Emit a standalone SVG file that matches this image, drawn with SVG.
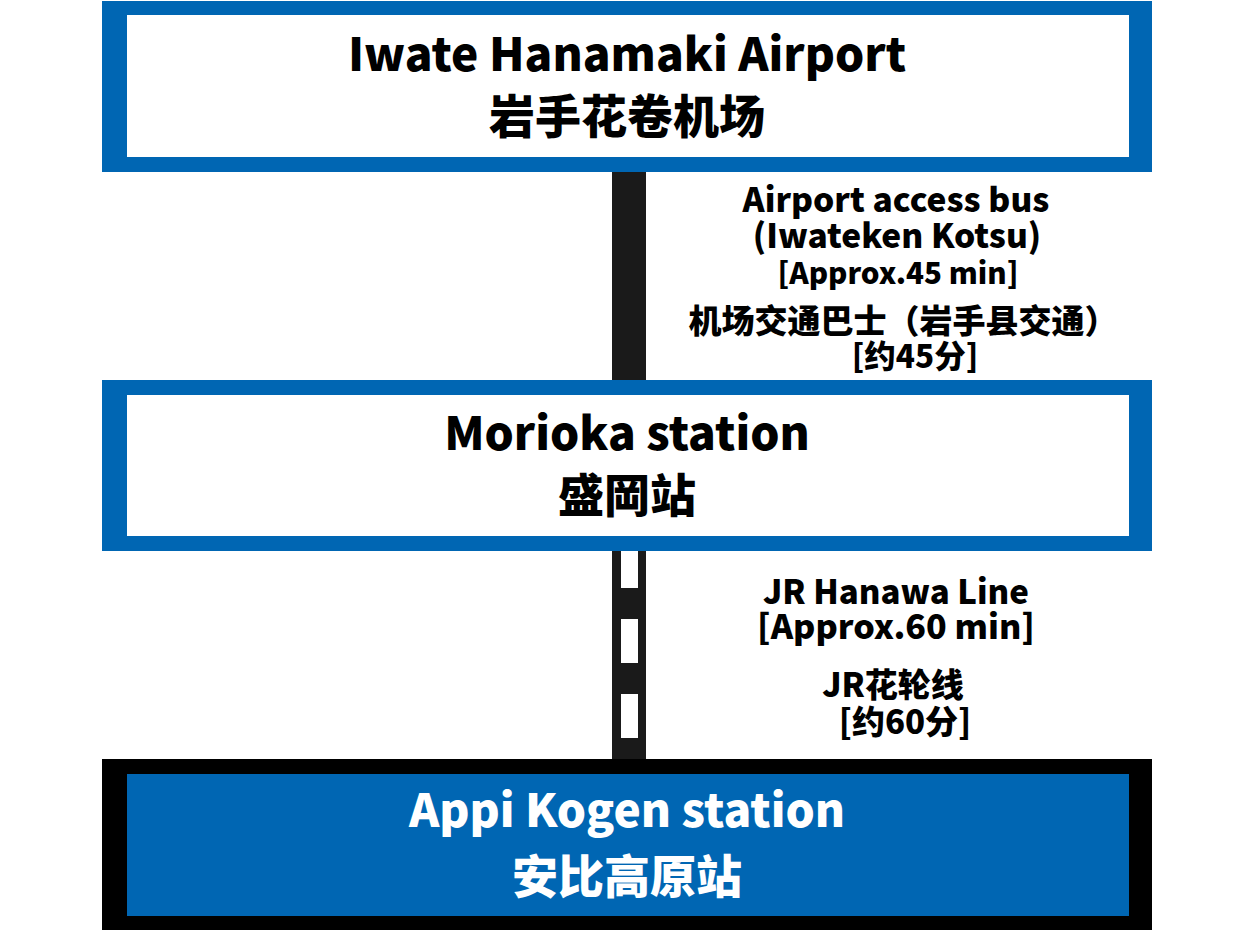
<svg xmlns="http://www.w3.org/2000/svg" width="1251" height="930" viewBox="0 0 1251 930">
<style>
text{font-family:"Noto Sans CJK SC","Noto Sans",sans-serif;font-weight:900;text-anchor:middle;fill:#000}
.t{font-size:46px}
.w{fill:#fff}
</style>
<rect width="1251" height="930" fill="#fff"/>
<g id="connectors">
<rect x="612" y="172" width="34" height="208" fill="#1a1a1a"/>
<rect x="612" y="551" width="34" height="208" fill="#1a1a1a"/>
<rect x="621" y="551" width="17" height="37" fill="#fff"/>
<rect x="621" y="619" width="17" height="44" fill="#fff"/>
<rect x="621" y="694" width="17" height="44" fill="#fff"/>
</g>
<g id="label-bus">
<text x="896" y="212" font-size="33.5">Airport access bus</text>
<text x="897" y="248" font-size="33.5">(Iwateken Kotsu)</text>
<text x="898" y="284" font-size="29.5">[Approx.45 min]</text>
<text x="903" y="333" font-size="33">机场交通巴士（岩手县交通）</text>
<text x="915" y="368" font-size="31.5">[约45分]</text>
</g>
<g id="label-train">
<text x="896" y="604" font-size="33">JR Hanawa Line</text>
<text x="896" y="639" font-size="34">[Approx.60 min]</text>
<text x="893" y="697" font-size="33">JR花轮线</text>
<text x="905" y="734" font-size="33">[约60分]</text>
</g>
<g id="airport">
<rect x="102" y="1" width="1050" height="171" fill="#0066b3"/>
<rect x="127" y="15" width="1002" height="142" fill="#fff"/>
<text class="t" x="627" y="71">Iwate Hanamaki Airport</text>
<text class="t" x="627" y="133">岩手花卷机场</text>
</g>
<g id="morioka">
<rect x="102" y="380" width="1050" height="171" fill="#0066b3"/>
<rect x="127" y="395" width="1002" height="141" fill="#fff"/>
<text class="t" x="627" y="450">Morioka station</text>
<text class="t" x="627" y="512">盛岡站</text>
</g>
<g id="appi">
<rect x="102" y="759" width="1050" height="171" fill="#000"/>
<rect x="127" y="774" width="1002" height="142" fill="#0066b3"/>
<text class="t w" x="627" y="827">Appi Kogen station</text>
<text class="t w" x="627" y="893">安比高原站</text>
</g>
</svg>
